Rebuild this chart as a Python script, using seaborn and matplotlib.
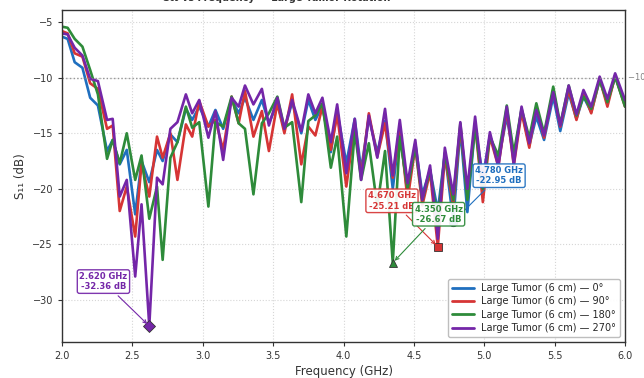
import numpy as np
import pandas as pd
import seaborn as sns
import matplotlib
matplotlib.use("Agg")
import matplotlib.pyplot as plt

# frequency points (GHz) at each peak / notch
freq_ghz = [2.00, 2.04, 2.09, 2.145, 2.20, 2.255, 2.32, 2.36, 2.41, 2.46,
            2.52, 2.565, 2.62, 2.675, 2.715, 2.77, 2.82, 2.88, 2.925, 2.975,
            3.04, 3.09, 3.145, 3.205, 3.255, 3.30, 3.36, 3.42, 3.47, 3.53,
            3.58, 3.635, 3.70, 3.75, 3.80, 3.85, 3.91, 3.955, 4.02, 4.08,
            4.125, 4.18, 4.24, 4.295, 4.35, 4.40, 4.455, 4.51, 4.56, 4.615,
            4.67, 4.72, 4.78, 4.83, 4.88, 4.935, 4.99, 5.04, 5.10, 5.16,
            5.21, 5.265, 5.32, 5.37, 5.425, 5.49, 5.54, 5.60, 5.655, 5.705,
            5.76, 5.82, 5.875, 5.93, 6.00]

# S11 (dB) for each rotation
s11_0 = [-6.3, -6.5, -8.6, -9.1, -11.8, -12.5, -16.6, -15.6, -17.8, -16.5,
         -22.3, -17.5, -19.4, -16.5, -17.5, -15.1, -15.8, -12.8, -13.8, -12.6,
         -14.4, -12.9, -14.6, -11.9, -13.2, -11.8, -13.8, -12.0, -14.1, -12.3,
         -14.7, -12.2, -15.0, -12.0, -13.8, -12.5, -16.7, -13.0, -17.7, -13.7,
         -18.3, -13.6, -16.7, -13.9, -20.0, -14.7, -20.5, -15.9, -20.5, -18.3,
         -22.0, -16.8, -22.95, -14.6, -22.1, -14.3, -19.0, -15.2, -17.5, -13.5,
         -17.2, -12.9, -16.1, -13.5, -15.6, -11.7, -14.8, -11.4, -13.7, -11.7,
         -13.1, -10.2, -12.3, -9.9, -12.4]
s11_90 = [-5.8, -6.0, -7.8, -8.1, -10.5, -11.0, -14.6, -14.3, -22.0, -19.8,
          -24.3, -17.7, -20.7, -15.3, -17.2, -15.0, -19.2, -14.2, -15.3, -12.1,
          -14.4, -13.8, -16.5, -11.7, -14.1, -11.2, -15.3, -13.0, -16.6, -12.3,
          -15.0, -11.5, -17.8, -14.4, -15.2, -12.6, -16.5, -13.3, -19.8, -14.2,
          -18.9, -13.2, -17.1, -14.1, -19.0, -14.4, -21.0, -16.2, -21.5, -18.5,
          -25.21, -17.1, -21.5, -14.4, -20.5, -14.1, -21.2, -15.3, -18.0, -12.9,
          -17.9, -13.1, -16.3, -12.6, -15.4, -11.1, -14.4, -11.1, -13.8, -11.3,
          -13.2, -10.1, -12.6, -9.8, -12.6]
s11_180 = [-5.4, -5.5, -6.5, -7.2, -9.3, -11.5, -17.3, -15.6, -17.7, -15.0,
           -19.2, -17.0, -22.7, -19.8, -26.4, -17.2, -15.8, -12.6, -14.5, -14.0,
           -21.6, -14.0, -14.4, -11.7, -14.1, -14.6, -20.5, -14.1, -13.2, -11.7,
           -14.5, -14.0, -21.2, -13.9, -13.4, -12.3, -18.1, -15.3, -24.3, -14.8,
           -19.2, -15.9, -21.6, -16.6, -26.67, -15.3, -20.0, -16.2, -21.0, -18.3,
           -23.0, -16.8, -21.0, -14.1, -21.0, -14.4, -20.0, -15.3, -17.0, -12.5,
           -16.8, -12.8, -15.4, -12.3, -15.0, -10.8, -14.2, -10.7, -13.4, -11.7,
           -12.8, -10.2, -12.2, -9.9, -12.6]
s11_270 = [-6.0, -6.1, -7.3, -8.0, -10.1, -10.3, -13.8, -13.7, -20.7, -19.2,
           -27.9, -21.4, -32.36, -19.0, -19.6, -14.6, -14.0, -11.5, -13.2, -12.0,
           -15.4, -13.0, -17.4, -11.8, -12.6, -10.7, -12.4, -11.0, -14.3, -11.8,
           -14.6, -12.0, -14.8, -11.5, -13.2, -11.8, -15.8, -12.4, -18.6, -13.7,
           -19.2, -13.4, -17.2, -12.8, -18.8, -13.8, -19.5, -15.6, -21.0, -17.9,
           -24.5, -16.3, -20.5, -14.0, -20.0, -13.5, -19.5, -14.9, -18.0, -12.6,
           -17.8, -12.6, -15.9, -12.9, -15.2, -11.3, -14.3, -10.7, -13.3, -11.1,
           -12.6, -9.9, -11.9, -9.6, -12.0]

labels = ["Large Tumor (6 cm) — 0°", "Large Tumor (6 cm) — 90°",
          "Large Tumor (6 cm) — 180°", "Large Tumor (6 cm) — 270°"]
colors = ["#1f6fbf", "#d63535", "#2e8b3a", "#7426a8"]
markers = ["o", "s", "^", "D"]
offsets = [(33, 33), (-33, 33), (33, 35), (-33, 32)]

series = [s11_0, s11_90, s11_180, s11_270]
df = pd.concat([pd.DataFrame({"Frequency (GHz)": freq_ghz, "S11": s, "case": lab})
                for s, lab in zip(series, labels)], ignore_index=True)

sns.set_style("whitegrid")
fig, ax = plt.subplots(figsize=(6.44, 3.78), dpi=100)
fig.subplots_adjust(left=0.0963, right=0.9705, bottom=0.0952, top=0.9735)

sns.lineplot(data=df, x="Frequency (GHz)", y="S11", hue="case",
             palette=dict(zip(labels, colors)), lw=1.9, estimator=None,
             sort=False, solid_joinstyle="round", ax=ax)

# -10 dB reference
ax.axhline(-10, color="gray", ls=":", lw=1.0, alpha=0.8)
ax.text(1.006, -10, "−10 dB", transform=ax.get_yaxis_transform(),
        fontsize=6, color="gray", va="center")

# mark minimum of each curve
for s, c, m, off in zip(series, colors, markers, offsets):
    i = int(np.argmin(s))
    f, v = freq_ghz[i], s[i]
    z = 1.5 if m == "o" else 6
    ax.plot(f, v, marker=m, ms=6, color=c, mec="#333333", mew=0.6, zorder=z)
    ax.annotate(f"{f:.3f} GHz\n{v:.2f} dB", xy=(f, v), xytext=off,
                textcoords="offset points", ha="center", va="center",
                fontsize=6, fontweight="bold", color=c, zorder=7,
                bbox=dict(boxstyle="round,pad=0.25", fc="white", ec=c, lw=1.0, alpha=0.92),
                arrowprops=dict(arrowstyle="->", color=c, lw=0.8))

ax.set_xlim(2.0, 6.0)
ax.set_ylim(-33.8, -3.9)
ax.set_xticks(np.arange(2.0, 6.01, 0.5))
ax.set_yticks([-30, -25, -20, -15, -10, -5])
ax.set_xlabel("Frequency (GHz)", fontsize=8.5, color="#333333", labelpad=3)
ax.set_ylabel("S₁₁ (dB)", fontsize=8.5, color="#333333")
ax.tick_params(labelsize=7, colors="#333333", length=3, width=0.8, left=True, bottom=True)
ax.grid(True, color="#d6d6d6", ls=":", lw=0.8)
for sp in ax.spines.values():
    sp.set_color("#333333")
    sp.set_linewidth(1.0)

sns.move_legend(ax, "lower right", title=None, fontsize=7, frameon=True,
                framealpha=0.95, edgecolor="#bbbbbb", handlelength=2.2,
                labelspacing=0.35, borderpad=0.4)
for h in ax.get_legend().get_lines():
    h.set_linewidth(2.0)

# title sits mostly above the visible area, as in the reference
fig.text(0.43, 0.993, "S₁₁ vs Frequency — Large Tumor Rotation", ha="center",
         va="bottom", fontsize=7, fontweight="bold", color="#333333")

fig.savefig("out.png", dpi=100)
